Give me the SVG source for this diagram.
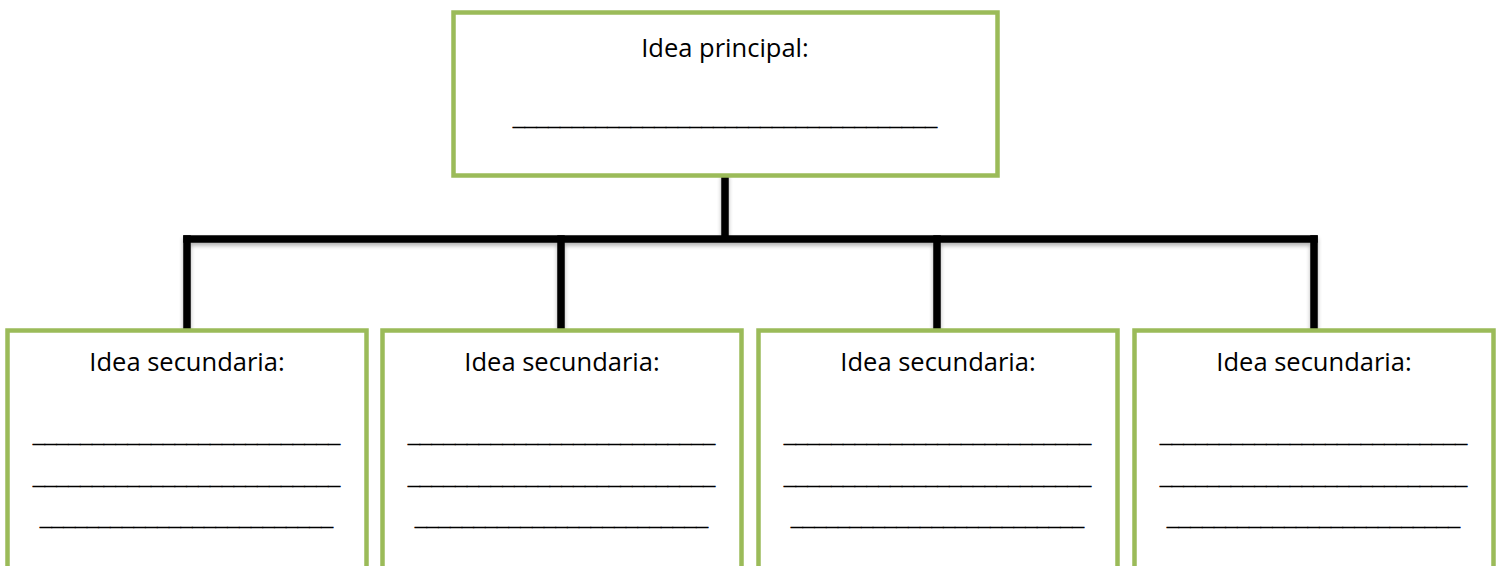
<svg xmlns="http://www.w3.org/2000/svg" width="1498" height="566" viewBox="0 0 1498 566">
<defs>
<style>
.box{fill:#fff;stroke:#9BBB59;stroke-width:4.5}
.t{font-family:"Open Sans","Liberation Sans",sans-serif;font-size:25.5px;fill:#000;text-anchor:middle}
.u{font-family:"Liberation Sans",sans-serif;font-size:21.2px;font-weight:bold;fill:#000;stroke:#000;stroke-width:0.7}
.c{fill:none;stroke:#000;stroke-width:7.5;stroke-linecap:square}
</style>
<filter id="sh" x="-5%" y="-5%" width="110%" height="120%">
<feGaussianBlur in="SourceAlpha" stdDeviation="2"/>
<feOffset dx="0" dy="3"/>
<feComponentTransfer><feFuncA type="linear" slope="0.3"/></feComponentTransfer>
<feMerge><feMergeNode/><feMergeNode in="SourceGraphic"/></feMerge>
</filter>
</defs>
<rect width="1498" height="566" fill="#fff"/>
<g id="connectors" filter="url(#sh)">
<path class="c" d="M725 177V238"/>
<path class="c" d="M187 239H1314"/>
<path class="c" d="M187 239V328M561 239V328M937 239V328M1314 239V328"/>
</g>
<g id="main">
<rect class="box" x="453.5" y="12.5" width="544" height="163"/>
<text class="t" x="725" y="57">Idea principal:</text>
<text class="u" x="513" y="125" textLength="424" lengthAdjust="spacingAndGlyphs">____________________________________</text>
</g>
<g id="sec1">
<rect class="box" x="7.5" y="330.5" width="359" height="250"/>
<text class="t" x="187" y="371">Idea secundaria:</text>
<text class="u" x="33" y="442" textLength="307" lengthAdjust="spacingAndGlyphs">__________________________</text>
<text class="u" x="33" y="484" textLength="307" lengthAdjust="spacingAndGlyphs">__________________________</text>
<text class="u" x="40" y="525" textLength="293" lengthAdjust="spacingAndGlyphs">_________________________</text>
</g>
<g id="sec2">
<rect class="box" x="382.5" y="330.5" width="359" height="250"/>
<text class="t" x="562" y="371">Idea secundaria:</text>
<text class="u" x="408" y="442" textLength="307" lengthAdjust="spacingAndGlyphs">__________________________</text>
<text class="u" x="408" y="484" textLength="307" lengthAdjust="spacingAndGlyphs">__________________________</text>
<text class="u" x="415" y="525" textLength="293" lengthAdjust="spacingAndGlyphs">_________________________</text>
</g>
<g id="sec3">
<rect class="box" x="758.5" y="330.5" width="359" height="250"/>
<text class="t" x="938" y="371">Idea secundaria:</text>
<text class="u" x="784" y="442" textLength="307" lengthAdjust="spacingAndGlyphs">__________________________</text>
<text class="u" x="784" y="484" textLength="307" lengthAdjust="spacingAndGlyphs">__________________________</text>
<text class="u" x="791" y="525" textLength="293" lengthAdjust="spacingAndGlyphs">_________________________</text>
</g>
<g id="sec4">
<rect class="box" x="1134.5" y="330.5" width="359" height="250"/>
<text class="t" x="1314" y="371">Idea secundaria:</text>
<text class="u" x="1160" y="442" textLength="307" lengthAdjust="spacingAndGlyphs">__________________________</text>
<text class="u" x="1160" y="484" textLength="307" lengthAdjust="spacingAndGlyphs">__________________________</text>
<text class="u" x="1167" y="525" textLength="293" lengthAdjust="spacingAndGlyphs">_________________________</text>
</g>
</svg>
